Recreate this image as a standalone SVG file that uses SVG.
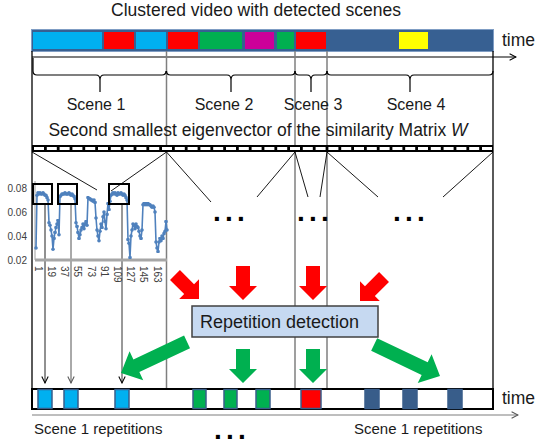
<svg xmlns="http://www.w3.org/2000/svg" width="538" height="446" viewBox="0 0 538 446">
<defs>
<style>
text{font-family:"Liberation Sans",Arial,sans-serif;fill:#1a1a1a}
.t{font-size:17.5px}
.s{font-size:16px}
.ax{font-size:10px;fill:#404040}
.dots{font-size:28px;font-weight:bold;fill:#000;letter-spacing:4.2px}
.bseg{stroke:#385D8A;stroke-width:1.5}
.gl{stroke:#7F7F7F;stroke-width:1.5;fill:none}
.bl{stroke:#000;stroke-width:1.2;fill:none}
.thin{stroke:#000;stroke-width:0.9;fill:none}
.red{fill:#FF0000}
.grn{fill:#00B050}
.cy{fill:#00B0F0}
.rd{fill:#FF0000}
.gn{fill:#00B050}
.db{fill:#385D8A}
</style>
<marker id="open" viewBox="0 0 10 10" refX="9" refY="5" markerWidth="8" markerHeight="8" orient="auto" markerUnits="userSpaceOnUse"><path d="M1,1 L9,5 L1,9" fill="none" stroke="#000" stroke-width="1.3"/></marker>
<marker id="opengrey" viewBox="0 0 10 10" refX="9" refY="5" markerWidth="8" markerHeight="8" orient="auto" markerUnits="userSpaceOnUse"><path d="M1,1 L9,5 L1,9" fill="none" stroke="#555" stroke-width="1.3"/></marker>
<marker id="dot" viewBox="0 0 4 4" refX="2" refY="2" markerWidth="3.6" markerHeight="3.6" markerUnits="userSpaceOnUse"><circle cx="2" cy="2" r="2" fill="#4F81BD"/></marker>
<path id="sa" d="M-7,-34 L7,-34 L7,-14 L14,-14 L0,0 L-14,-14 L-7,-14 Z"/>
<path id="la" d="M-7,-73 L7,-73 L7,-17 L16,-17 L0,0 L-16,-17 L-7,-17 Z"/>
</defs>
<rect width="538" height="446" fill="#fff"/>

<g id="title"><text class="t" x="256" y="16" text-anchor="middle">Clustered video with detected scenes</text></g>

<g id="video-bar">
<rect x="31.5" y="29.5" width="462" height="22" fill="#376092" stroke="#7F9DC4" stroke-width="1"/>
<rect class="cy" x="33" y="32" width="69" height="17"/>
<rect class="rd" x="104" y="32" width="30" height="17"/>
<rect class="cy" x="136" y="32" width="30" height="17"/>
<rect class="rd" x="168" y="32" width="30" height="17"/>
<rect class="gn" x="200" y="32" width="42" height="17"/>
<rect fill="#CC0099" x="245" y="32" width="29" height="17"/>
<rect class="gn" x="277" y="32" width="17" height="17"/>
<rect class="rd" x="296" y="32" width="30" height="17"/>
<rect fill="#FFFF00" x="399" y="32" width="29" height="17"/>
<text class="t" x="502" y="46">time</text>
</g>

<g id="connectors">
<line class="bl" x1="32" y1="57" x2="516" y2="57" marker-end="url(#open)"/>
<line x1="32" y1="51" x2="32" y2="389" stroke="#000" stroke-width="1.3"/>
<line x1="493" y1="51" x2="493" y2="389" stroke="#000" stroke-width="1.3"/>
<line class="gl" x1="166.5" y1="51" x2="166.5" y2="389"/>
<line class="gl" x1="295" y1="51" x2="295" y2="389"/>
<line class="gl" x1="327" y1="51" x2="327" y2="389"/>
<path class="bl" d="M33,58 L33,71 Q33,75 37,75 L96,75 Q100,75 100,80 L100,92 M100,80 Q100,75 104,75 L162,75 Q166,75 166,71"/>
<path class="bl" d="M166.5,71 Q166.5,75 170.5,75 L227,75 Q231,75 231,80 L231,92 M231,80 Q231,75 235,75 L291,75 Q295,75 295,71"/>
<path class="bl" d="M295,71 Q295,75 299,75 L307,75 Q311,75 311,80 L311,92 M311,80 Q311,75 315,75 L323,75 Q327,75 327,71"/>
<path class="bl" d="M327,71 Q327,75 331,75 L406,75 Q410,75 410,80 L410,92 M410,80 Q410,75 414,75 L489,75 Q493,75 493,71"/>
<line class="thin" x1="32" y1="152" x2="97" y2="190"/>
<line class="thin" x1="166.5" y1="152" x2="111" y2="191"/>
<line class="thin" x1="166.5" y1="152" x2="211" y2="202"/>
<line class="thin" x1="295" y1="152" x2="257" y2="197"/>
<line class="thin" x1="295" y1="152" x2="308" y2="197"/>
<line class="thin" x1="327" y1="152" x2="320" y2="197"/>
<line class="thin" x1="327" y1="152" x2="378" y2="197"/>
<line class="thin" x1="493" y1="152" x2="443" y2="197"/>
<line x1="45" y1="204" x2="45" y2="383" stroke="#222" stroke-width="1" marker-end="url(#open)"/>
<line x1="71" y1="204" x2="71" y2="383" stroke="#555" stroke-width="1" marker-end="url(#opengrey)"/>
<line x1="122" y1="204" x2="122" y2="383" stroke="#333" stroke-width="1" marker-end="url(#open)"/>
<line x1="32" y1="415" x2="518" y2="415" stroke="#7F7F7F" stroke-width="1.2" marker-end="url(#opengrey)"/>
</g>

<g id="scene-labels">
<text class="s" x="96" y="110" text-anchor="middle">Scene 1</text>
<text class="s" x="224" y="110" text-anchor="middle">Scene 2</text>
<text class="s" x="313" y="110" text-anchor="middle">Scene 3</text>
<text class="s" x="416" y="110" text-anchor="middle">Scene 4</text>
</g>

<g id="eigenvector">
<text class="t" x="258" y="136" text-anchor="middle">Second smallest eigenvector of the similarity Matrix <tspan font-style="italic">W</tspan></text>
<rect x="32" y="145" width="461" height="7" fill="#000"/>
<line x1="34" y1="148.5" x2="492" y2="148.5" stroke="#fff" stroke-width="3" stroke-dasharray="10 2.8"/>
</g>

<g id="chart">
<line x1="35" y1="181" x2="35" y2="260" stroke="#BFBFBF" stroke-width="1.5"/>
<line x1="35" y1="260" x2="167" y2="260" stroke="#A6A6A6" stroke-width="3"/>
<text class="ax" x="27" y="191.5" text-anchor="end">0.08</text>
<text class="ax" x="27" y="215.5" text-anchor="end">0.06</text>
<text class="ax" x="27" y="239.5" text-anchor="end">0.04</text>
<text class="ax" x="27" y="263.5" text-anchor="end">0.02</text>
<text class="ax" transform="translate(34.5,266) rotate(90)">1</text>
<text class="ax" transform="translate(47.5,266) rotate(90)">19</text>
<text class="ax" transform="translate(60.5,266) rotate(90)">37</text>
<text class="ax" transform="translate(73.5,266) rotate(90)">55</text>
<text class="ax" transform="translate(87.5,266) rotate(90)">73</text>
<text class="ax" transform="translate(100.5,266) rotate(90)">91</text>
<text class="ax" transform="translate(113.5,266) rotate(90)">109</text>
<text class="ax" transform="translate(126.5,266) rotate(90)">127</text>
<text class="ax" transform="translate(139.5,266) rotate(90)">145</text>
<text class="ax" transform="translate(153.5,266) rotate(90)">163</text>
<polyline fill="none" stroke="#4F81BD" stroke-width="1.6" stroke-linejoin="round" marker-start="url(#dot)" marker-mid="url(#dot)" marker-end="url(#dot)" points="36,248 37,195.2 38,192.8 39,194 40,192.8 41,194 42,194 43,192.8 44,194 45,195.2 46,195.2 47,197.6 48,200 49,222.8 50,225.2 51,230 52,236 53,249.2 54,238.4 55,232.4 56,227.6 57,224 58,220.4 59,234.8 60,196.4 61,195.2 62,194 63,194 64,194 65,192.8 66,194 67,194 68,194 69,192.8 70,194 71,195.2 72,194 73,195.2 74,196.4 75,198.8 76,222.8 77,226.4 78,232.4 79,238.4 80,234.8 81,230 82,227.6 83,224 84,228.8 85,224 86,221.6 87,225.2 88,197.6 89,198.8 90,198.8 91,200 92,200 93,201.2 94,200 95,202.4 96,218 97,230 98,236 99,240.8 100,231.2 101,224 102,227.6 103,216.8 104,212 105,221.6 106,228.8 107,214.4 108,203.6 109,209.6 110,201.2 111,195.2 112,194 113,192.8 114,194 115,192.8 116,194 117,195.2 118,192.8 119,194 120,194 121,192.8 122,194 123,195.2 124,194 125,195.2 126,197.6 127,200 128,239.6 129,243.2 130,257.6 131,236 132,230 133,224 134,225.2 135,228.8 136,224 137,226.4 138,227.6 139,231.2 140,236 141,238.4 142,230 143,204.8 144,203.6 145,204.8 146,203.6 147,204.8 148,203.6 149,204.8 150,204.8 151,206 152,207.2 153,206 154,207.2 155,212 156,242 157,248 158,251.6 159,242 160,238.4 161,240.8 162,236 163,238.4 164,233.6 165,231.2 166,221.6 167,230"/>
<rect x="33" y="184" width="19" height="20" fill="none" stroke="#000" stroke-width="2"/>
<rect x="58" y="184" width="19" height="20" fill="none" stroke="#000" stroke-width="2"/>
<rect x="109" y="184" width="20" height="20" fill="none" stroke="#000" stroke-width="2"/>
</g>

<g id="ellipses">
<text class="dots" x="213" y="221">...</text>
<text class="dots" x="297" y="221">...</text>
<text class="dots" x="393" y="221">...</text>
<text class="dots" x="214" y="439">...</text>
</g>

<g id="red-arrows" class="red">
<use href="#sa" transform="translate(199,299) rotate(-45)"/>
<use href="#sa" transform="translate(243,300)"/>
<use href="#sa" transform="translate(313,300)"/>
<use href="#sa" transform="translate(360,301) rotate(45)"/>
</g>

<g id="repetition-detection">
<rect x="192" y="306" width="186" height="31" fill="#C6D9F1" stroke="#404040" stroke-width="1.5"/>
<text x="200" y="328" font-size="18">Repetition detection</text>
</g>

<g id="green-arrows" class="grn">
<use href="#la" transform="translate(121,373) rotate(64.8)"/>
<use href="#sa" transform="translate(243,383)"/>
<use href="#sa" transform="translate(313,383)"/>
<use href="#la" transform="translate(440,376) rotate(-64.4)"/>
</g>

<g id="repetition-strip">
<rect x="32" y="389" width="461" height="20" fill="#fff" stroke="#000" stroke-width="2"/>
<rect class="cy bseg" x="38" y="389.5" width="14" height="19"/>
<rect class="cy bseg" x="64" y="389.5" width="14" height="19"/>
<rect class="cy bseg" x="115" y="389.5" width="14" height="19"/>
<rect class="gn bseg" x="193" y="389.5" width="13" height="19"/>
<rect class="gn bseg" x="224" y="389.5" width="13" height="19"/>
<rect class="gn bseg" x="256" y="389.5" width="14" height="19"/>
<rect class="rd bseg" x="301" y="389.5" width="20" height="19"/>
<rect class="db bseg" x="365" y="389.5" width="14" height="19"/>
<rect class="db bseg" x="403" y="389.5" width="14" height="19"/>
<rect class="db bseg" x="448" y="389.5" width="14" height="19"/>
<text class="t" x="502" y="404">time</text>
<text x="34" y="434" font-size="15">Scene 1 repetitions</text>
<text x="354" y="434" font-size="15">Scene 1 repetitions</text>
</g>
</svg>
